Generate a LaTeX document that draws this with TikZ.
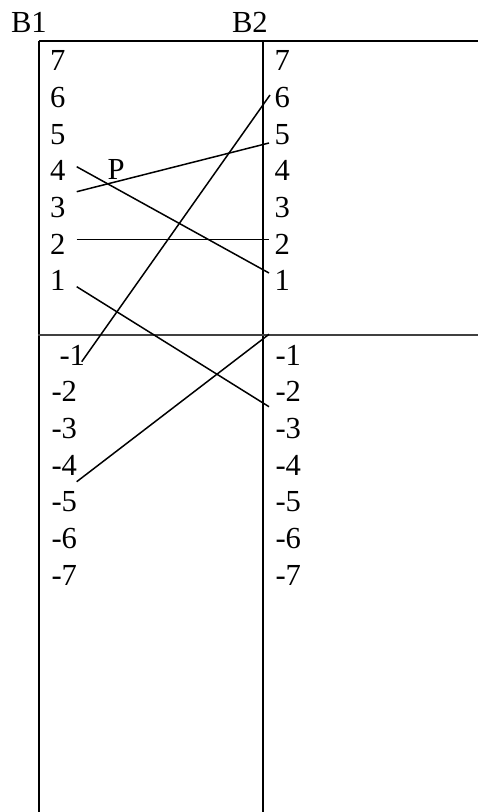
\documentclass[tikz,border=0pt]{standalone}
\usepackage{fontspec}
\setmainfont{Liberation Serif}
\begin{document}
\begin{tikzpicture}[x=1pt,y=-1pt,
  lbl/.style={anchor=base west,inner sep=0pt,outer sep=0pt,font=\fontsize{30.6}{36.7}\selectfont},
  frame/.style={line width=1.2pt,black},
  midline/.style={line width=1.4pt,black!75},
  link/.style={line width=1.5pt,black}]
\useasboundingbox (0,0) rectangle (478,812);
% frame
\coordinate (tl) at (39,41);
\coordinate (tr) at (478,41);
\coordinate (bl) at (39,812);
\coordinate (tm) at (263,41);
\coordinate (bm) at (263,812);
\coordinate (ml) at (38,335);
\coordinate (mr) at (478,335);
\draw[frame] (tl) -- (tr);
\draw[frame] (tl) -- (bl);
\draw[frame] (tm) -- (bm);
\draw[midline] (ml) -- (mr);
% headers
\node[lbl] (B1) at (11,32) {B1};
\node[lbl] (B2) at (232,32) {B2};
% left column
\node[lbl] (L7) at (50,70.7) {7};
\node[lbl] (L6) at (50,107.4) {6};
\node[lbl] (L5) at (50,144) {5};
\node[lbl] (L4) at (50,180.7) {4};
\node[lbl] (L3) at (50,217.4) {3};
\node[lbl] (L2) at (50,254) {2};
\node[lbl] (L1) at (50,290.7) {1};
\node[lbl] (Lm1) at (59.5,365) {-1};
\node[lbl] (Lm2) at (51.5,401.7) {-2};
\node[lbl] (Lm3) at (51.5,438.3) {-3};
\node[lbl] (Lm4) at (51.5,475) {-4};
\node[lbl] (Lm5) at (51.5,511.7) {-5};
\node[lbl] (Lm6) at (51.5,548.3) {-6};
\node[lbl] (Lm7) at (51.5,585) {-7};
% right column
\node[lbl] (R7) at (274.5,70.7) {7};
\node[lbl] (R6) at (274.5,107.4) {6};
\node[lbl] (R5) at (274.5,144) {5};
\node[lbl] (R4) at (274.5,180.7) {4};
\node[lbl] (R3) at (274.5,217.4) {3};
\node[lbl] (R2) at (274.5,254) {2};
\node[lbl] (R1) at (274.5,290.7) {1};
\node[lbl] (Rm1) at (275.5,365) {-1};
\node[lbl] (Rm2) at (275.5,401.7) {-2};
\node[lbl] (Rm3) at (275.5,438.3) {-3};
\node[lbl] (Rm4) at (275.5,475) {-4};
\node[lbl] (Rm5) at (275.5,511.7) {-5};
\node[lbl] (Rm6) at (275.5,548.3) {-6};
\node[lbl] (Rm7) at (275.5,585) {-7};
% P
\node[lbl] (P) at (107.5,179.3) {P};
% link endpoints
\coordinate (a1) at (76.7,166.7); \coordinate (a2) at (269,273);
\coordinate (b1) at (76.7,191.7); \coordinate (b2) at (269,143);
\coordinate (c1) at (76.7,239.3); \coordinate (c2) at (269,239.3);
\coordinate (d1) at (76.7,286.7); \coordinate (d2) at (269,406.7);
\coordinate (e1) at (81.7,361.7); \coordinate (e2) at (270,95);
\coordinate (f1) at (76.7,481.7); \coordinate (f2) at (269,334.3);
\draw[link] (a1) -- (a2);
\draw[link] (b1) -- (b2);
\draw[link] (c1) -- (c2);
\draw[link] (d1) -- (d2);
\draw[link] (e1) -- (e2);
\draw[link] (f1) -- (f2);
\end{tikzpicture}
\end{document}
